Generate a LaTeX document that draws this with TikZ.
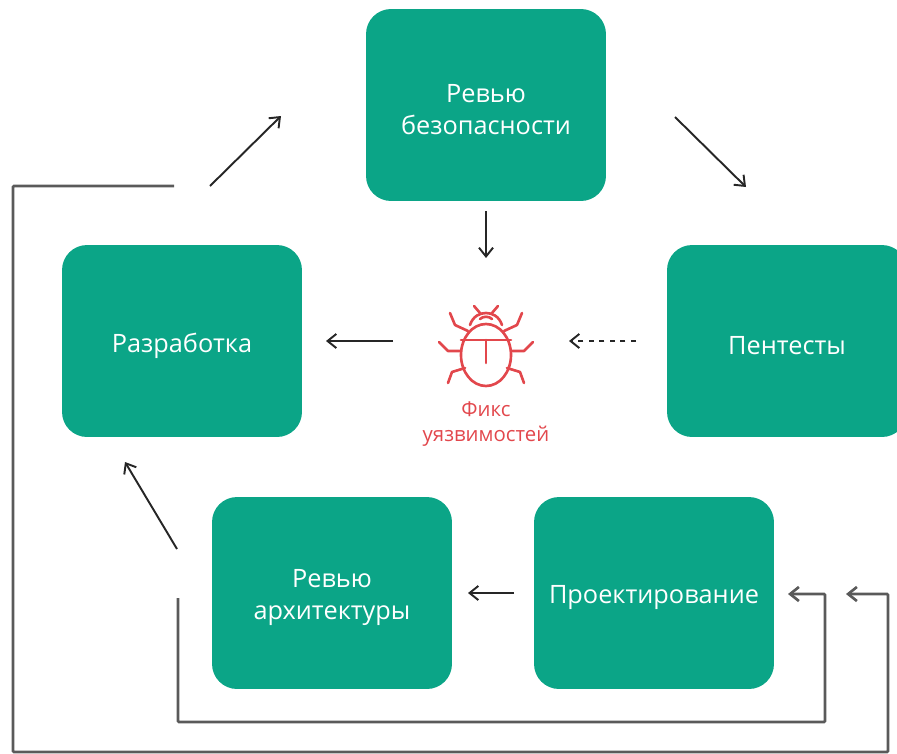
\documentclass[tikz,border=0pt]{standalone}
\usepackage{fontspec}
\setmainfont{Open Sans}
\usetikzlibrary{arrows.meta}
\definecolor{boxgreen}{HTML}{0BA587}
\definecolor{bugred}{HTML}{E2474C}
\definecolor{linegrey}{HTML}{5A5A5A}
\tikzset{
  stagetext/.style={inner sep=0pt,align=center,text=white,yshift=-2.8pt,font=\fontsize{14.4}{18.2}\selectfont},
  stage/.style={fill=boxgreen,rounded corners=0.5cm,minimum width=4.8cm,minimum height=3.84cm,inner sep=0pt,label={[stagetext]center:#1}},
  flow/.style={-{Straight Barb[length=5pt,width=8pt]},line width=1.1pt,color=black!85},
  loopback/.style={flow,line width=1.5pt,color=linegrey,rounded corners=0.5pt},
  bugline/.style={draw=bugred,line width=1.5pt,line cap=round,line join=round}
}

\begin{document}
\begin{tikzpicture}[x=0.02cm,y=-0.02cm]
\useasboundingbox (0,0) rectangle (897,754);

\node[stage={Ревью\\безопасности}] (review) at (486,105) {};
\node[stage={Разработка}] (dev) at (182,341) {};
\node[stage={Пентесты}] (pentest) at (787,341) {};
\node[stage={Ревью\\архитектуры}] (arch) at (332,593) {};
\node[stage={Проектирование}] (design) at (654,593) {};

\node[text=bugred,align=center,font=\fontsize{11.6}{14.7}\selectfont] (fix) at (486,424) {Фикс\\уязвимостей};

% bug
\coordinate (bug) at (486,355);
\draw[bugline] (bug) ellipse (25 and 31);
\draw[bugline] (461,340) -- (511,340) (486,340) -- (486,363);
\draw[bugline] (470,325) .. controls (473,316) and (480,313) .. (486,313) .. controls (492,313) and (499,316) .. (502,325);
\draw[bugline] (480,319) .. controls (483,316) and (489,316) .. (492,319);
\draw[bugline] (474,306) -- (480,313) (498,306) -- (492,313);
\foreach \s in {1,-1} {
  \draw[bugline] (486-36*\s,313) -- (486-31*\s,325) -- (486-18*\s,331);
  \draw[bugline] (486-47*\s,342) -- (486-38*\s,351) -- (486-25*\s,351);
  \draw[bugline] (486-38*\s,383) -- (486-34*\s,372) -- (486-21*\s,368);
}

\coordinate (a1) at (210,186);
\coordinate (a2) at (281,116);
\coordinate (b1) at (675,117);
\coordinate (b2) at (746,187);
\coordinate (c1) at (486,211);
\coordinate (c2) at (486,258);
\coordinate (d1) at (393,341);
\coordinate (d2) at (326,341);
\coordinate (e1) at (636,341);
\coordinate (e2) at (569,341);
\coordinate (f1) at (177,549);
\coordinate (f2) at (125,462);
\coordinate (g1) at (514,593);
\coordinate (g2) at (468,593);
\coordinate (h1) at (178,598);
\coordinate (h2) at (788,594);
\coordinate (i1) at (174,186);
\coordinate (i2) at (846,594);

\path[flow] (a1) edge (a2) (b1) edge (b2) (c1) edge (c2) (d1) edge (d2) (e1) edge[dashed] (e2) (f1) edge (f2) (g1) edge (g2);

\draw[loopback] (h1) -- (178,722) -- (825,722) -- (825,594) -- (h2);
\draw[loopback] (i1) -- (13,186) -- (13,752) -- (888,752) -- (888,594) -- (i2);

\end{tikzpicture}
\end{document}
